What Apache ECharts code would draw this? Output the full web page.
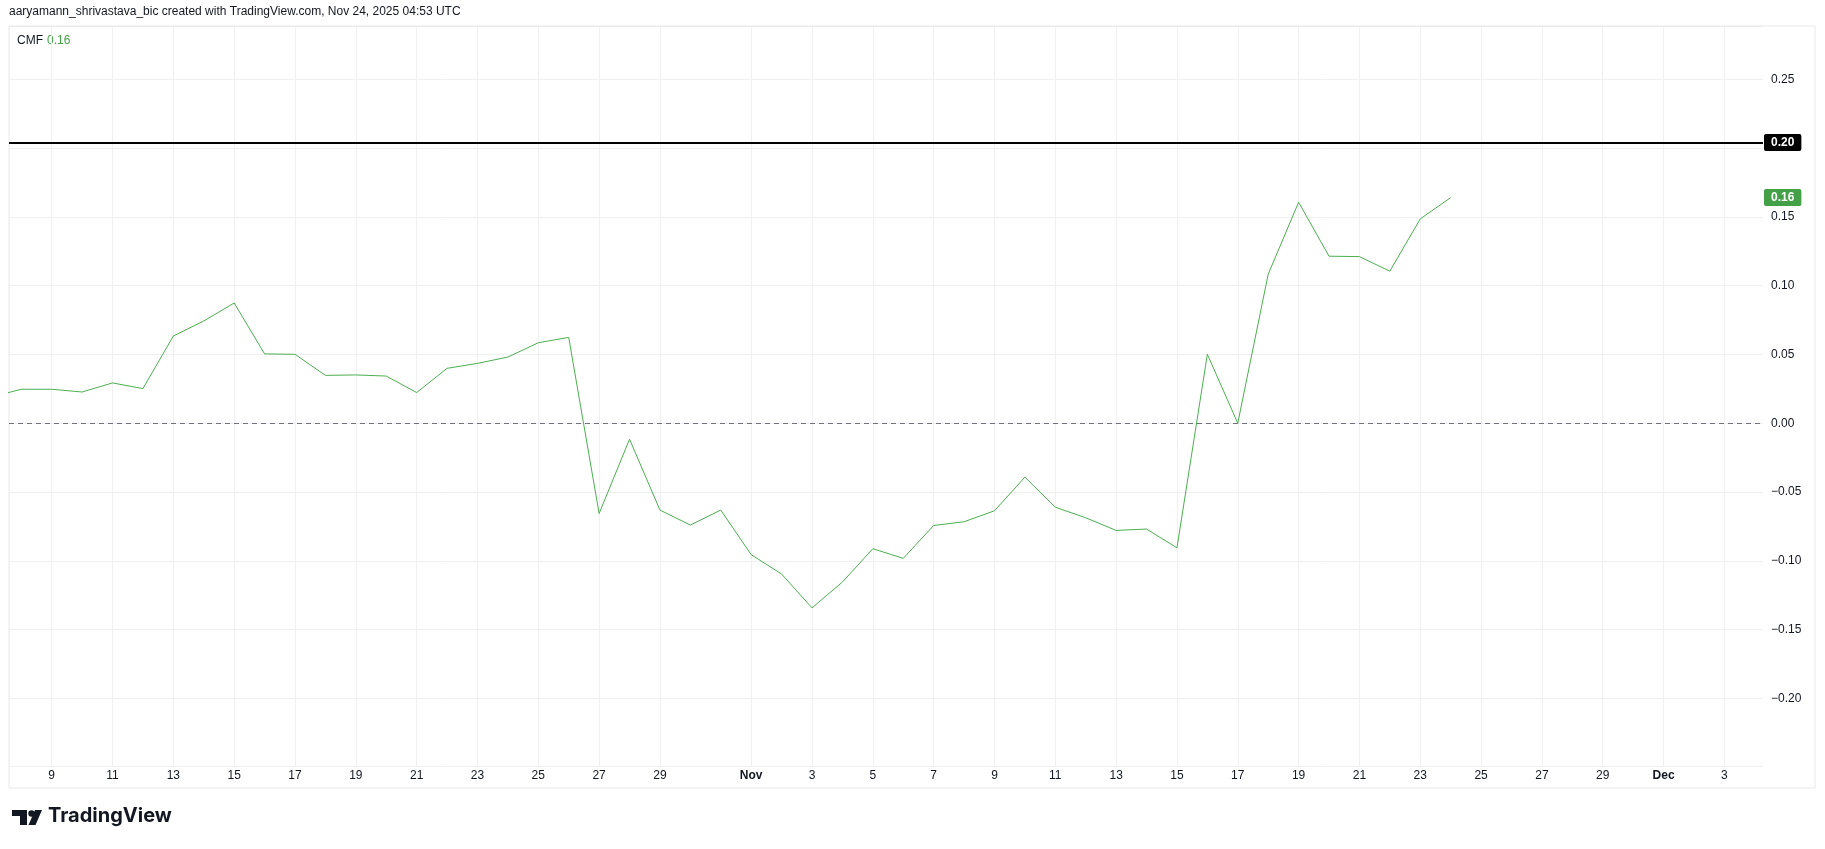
<!DOCTYPE html>
<html><head><meta charset="utf-8">
<script src="https://cdn.jsdelivr.net/npm/echarts@6/dist/echarts.min.js"></script>
<style>html,body{margin:0;padding:0;background:#fff}#c{width:1825px;height:849px}</style>
</head><body><div id="c"></div>
<script>
// ---- data ----
const dates = [
  '2025-10-07','2025-10-08','2025-10-09','2025-10-10','2025-10-11','2025-10-12','2025-10-13',
  '2025-10-14','2025-10-15','2025-10-16','2025-10-17','2025-10-18','2025-10-19','2025-10-20',
  '2025-10-21','2025-10-22','2025-10-23','2025-10-24','2025-10-25','2025-10-26','2025-10-27',
  '2025-10-28','2025-10-29','2025-10-30','2025-10-31','2025-11-01','2025-11-02','2025-11-03',
  '2025-11-04','2025-11-05','2025-11-06','2025-11-07','2025-11-08','2025-11-09','2025-11-10',
  '2025-11-11','2025-11-12','2025-11-13','2025-11-14','2025-11-15','2025-11-16','2025-11-17',
  '2025-11-18','2025-11-19','2025-11-20','2025-11-21','2025-11-22','2025-11-23','2025-11-24'
];
const cmfValues = [
  0.019, 0.0247, 0.0247, 0.0227, 0.0293, 0.0252, 0.0634,
  0.0743, 0.0874, 0.0504, 0.0501, 0.0348, 0.0351, 0.0343,
  0.0223, 0.0399, 0.0435, 0.0481, 0.0585, 0.0624, -0.0656,
  -0.0116, -0.0631, -0.074, -0.0631, -0.0955, -0.1096, -0.1342,
  -0.1154, -0.0912, -0.0982, -0.0743, -0.0716, -0.0636, -0.0392,
  -0.061, -0.0687, -0.0779, -0.0769, -0.0905, 0.0501, 0.0,
  0.1083, 0.1606, 0.1214, 0.1211, 0.1105, 0.1485, 0.164
];
const xTickDates = [
  '2025-10-09','2025-10-11','2025-10-13','2025-10-15','2025-10-17','2025-10-19','2025-10-21',
  '2025-10-23','2025-10-25','2025-10-27','2025-10-29','2025-11-01','2025-11-03','2025-11-05',
  '2025-11-07','2025-11-09','2025-11-11','2025-11-13','2025-11-15','2025-11-17','2025-11-19',
  '2025-11-21','2025-11-23','2025-11-25','2025-11-27','2025-11-29','2025-12-01','2025-12-03'
];
const monthNames = ['Jan','Feb','Mar','Apr','May','Jun','Jul','Aug','Sep','Oct','Nov','Dec'];
const horizontalLineValue = 0.204;
const horizontalLineLabel = '0.20';
const lastValueLabel = '0.16';
const indicatorName = 'CMF';
const headerText = 'aaryamann_shrivastava_bic created with TradingView.com, Nov 24, 2025 04:53 UTC';

// ---- helpers ----
const BASE = Date.UTC(2025, 9, 9);
const DAY = 86400000;
const dayIdx = d => (Date.parse(d + 'T00:00:00Z') - BASE) / DAY;
const seriesData = dates.map((d, i) => [dayIdx(d), cmfValues[i]]);
const xTicks = xTickDates.map(dayIdx);

const FONT = '"Liberation Sans", Arial, sans-serif';
const TEXT = '#131722';
const GRID = '#f0f0f1';
const GREEN = '#43a047';

const chart = echarts.init(document.getElementById('c'), null, {renderer: 'canvas'});
chart.setOption({
  animation: false,
  backgroundColor: '#ffffff',
  textStyle: {fontFamily: FONT},
  grid: {left: 9, right: 62, top: 26, bottom: 83, containLabel: false},
  xAxis: {
    type: 'value',
    min: -1.404, max: 56.27,
    axisLine: {show: false},
    axisTick: {show: false, customValues: xTicks},
    splitLine: {show: true, lineStyle: {color: GRID, width: 1}},
    axisLabel: {
      customValues: xTicks,
      margin: 4,
      fontSize: 12, color: TEXT, fontFamily: FONT,
      formatter: v => {
        const dt = new Date(BASE + Math.round(v) * DAY);
        const d = dt.getUTCDate();
        return d === 1 ? '{m|' + monthNames[dt.getUTCMonth()] + '}' : String(d);
      },
      rich: {m: {fontWeight: 'bold', fontSize: 12, color: TEXT, fontFamily: FONT}}
    }
  },
  yAxis: {
    type: 'value',
    position: 'right',
    min: -0.2491, max: 0.2887,
    minInterval: 0.05, maxInterval: 0.05,
    axisLine: {show: false},
    axisTick: {show: false},
    splitLine: {show: true, lineStyle: {color: GRID, width: 1}},
    axisLabel: {
      showMinLabel: false, showMaxLabel: false,
      margin: 8, align: 'left',
      fontSize: 12, color: TEXT, fontFamily: FONT,
      formatter: v => {
        if (Math.abs(v - 0.2) < 1e-6) return '';
        const s = Math.abs(v).toFixed(2);
        return v < -1e-9 ? '\u2212' + s : s;
      }
    }
  },
  series: [{
    type: 'line',
    data: seriesData,
    showSymbol: false,
    symbol: 'none',
    clip: true,
    lineStyle: {color: '#4caf50', width: 1},
    z: 5,
    markLine: {
      silent: true,
      symbol: 'none',
      animation: false,
      precision: 4,
      data: [
        {yAxis: 0, lineStyle: {color: '#6f727c', width: 1, type: [5, 4]}, label: {show: false}},
        {yAxis: horizontalLineValue, lineStyle: {color: '#000000', width: 2, type: 'solid'},
          label: {show: true, position: 'end', distance: 1, formatter: horizontalLineLabel,
            backgroundColor: '#000000', color: '#ffffff', fontWeight: 'bold', fontSize: 12,
            fontFamily: FONT, padding: [3, 7, 2, 7], borderRadius: 2}},
        {yAxis: cmfValues[cmfValues.length - 1], lineStyle: {color: 'rgba(0,0,0,0)', width: 1, type: 'solid'},
          label: {show: true, position: 'end', distance: 1, formatter: lastValueLabel,
            backgroundColor: GREEN, color: '#ffffff', fontWeight: 'bold', fontSize: 12,
            fontFamily: FONT, padding: [3, 7, 2, 7], borderRadius: 2}}
      ]
    }
  }],
  graphic: [
    {type: 'rect', shape: {x: 9, y: 26, width: 1806, height: 762},
      style: {fill: 'none', stroke: '#e8e8ea', lineWidth: 1}, silent: true, z: 1},
    {type: 'text', left: 9, top: 6,
      style: {text: headerText, fontSize: 12, fill: TEXT, fontFamily: FONT}},
    {type: 'text', left: 17, top: 35,
      style: {text: indicatorName, fontSize: 12, fill: TEXT, fontFamily: FONT}},
    {type: 'text', left: 47, top: 35,
      style: {text: lastValueLabel, fontSize: 12, fill: GREEN, fontFamily: FONT}},
    // TradingView logo
    {type: 'group', left: 12, top: 810, children: [
      {type: 'rect', shape: {x: 0, y: 1, width: 15, height: 6}, style: {fill: TEXT}},
      {type: 'rect', shape: {x: 8, y: 1, width: 7, height: 15}, style: {fill: TEXT}},
      {type: 'circle', shape: {cx: 19.5, cy: 4.5, r: 3.2}, style: {fill: TEXT}},
      {type: 'polygon', shape: {points: [[23, 1], [30, 1], [23.5, 16], [16.5, 16]]}, style: {fill: TEXT}}
    ]},
    {type: 'text', left: 48, top: 806,
      style: {text: 'TradingView', fontSize: 20, fontWeight: 'bold', fill: TEXT, fontFamily: '"Inter", "Liberation Sans", sans-serif'}}
  ]
});
</script>
</body></html>
